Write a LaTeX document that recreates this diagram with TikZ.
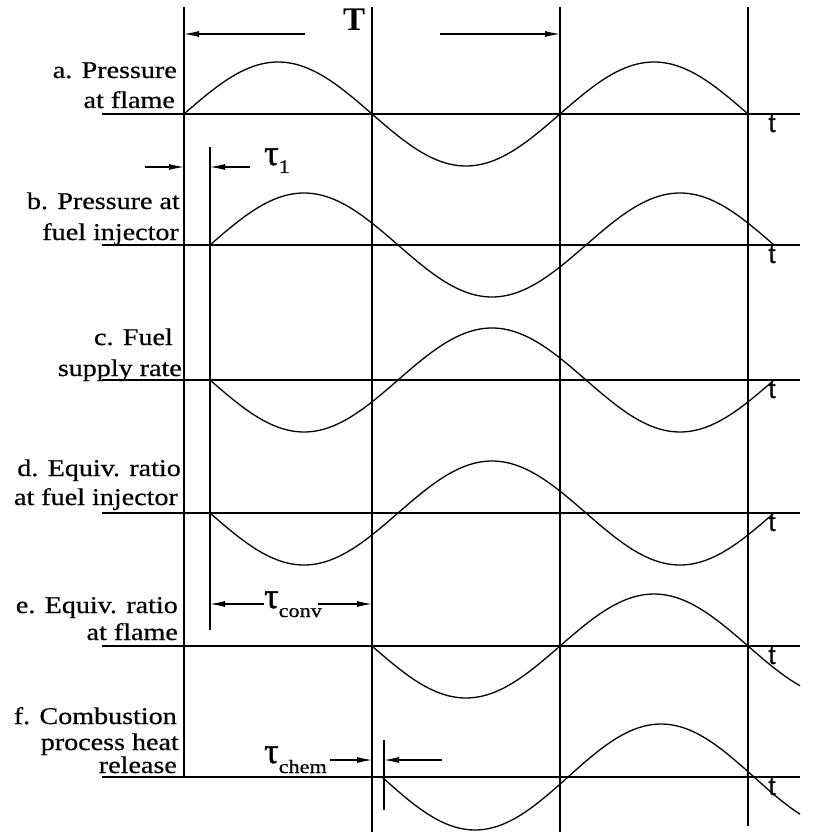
\documentclass[tikz,border=0pt]{standalone}
\usepackage{fontspec}
\setmainfont{Liberation Serif}
\newfontfamily\labfont{Liberation Serif}[FakeStretch=1.17,FakeBold=0.6]
\newfontfamily\taufont{Liberation Serif}[FakeBold=1.5]
\newfontfamily\tfont{Liberation Sans}[FakeBold=0.8]
\newcommand{\subf}{\labfont\fontsize{19}{21}\selectfont}
\usetikzlibrary{arrows.meta}
\begin{document}
\begin{tikzpicture}[x=1pt,y=-1pt,
  axisline/.style={line width=1.6pt},
  vline/.style={line width=1.1pt},
  wave/.style={line width=1.3pt},
  arr/.style={line width=1.1pt,-{Latex[length=15pt,width=6pt]}},
  lab/.style={anchor=base east,inner sep=0pt,font=\labfont\fontsize{24}{28}\selectfont},
  tlab/.style={anchor=base,inner sep=0pt,font=\tfont\fontsize{26}{28}\selectfont},
  taulab/.style={anchor=base west,inner sep=0pt,font=\taufont\fontsize{36}{38}\selectfont}]
\useasboundingbox (0,0) rectangle (818,837);
% vertical lines
\coordinate (v1t) at (184,7);   \coordinate (v1b) at (184,777);
\coordinate (v2t) at (372,7);   \coordinate (v2b) at (372,832);
\coordinate (v3t) at (560,7);   \coordinate (v3b) at (560,832);
\coordinate (v4t) at (748,7);   \coordinate (v4b) at (748,826);
\coordinate (w1t) at (210,147); \coordinate (w1b) at (210,630);
\coordinate (w2t) at (384,740); \coordinate (w2b) at (384,810);
\draw[vline] (v1t) -- (v1b);
\draw[vline] (v2t) -- (v2b);
\draw[vline] (v3t) -- (v3b);
\draw[vline] (v4t) -- (v4b);
\draw[vline] (w1t) -- (w1b);
\draw[vline] (w2t) -- (w2b);
% axes
\foreach \n/\y in {a/114,b/245,c/380,d/513,e/646,f/777}{
  \coordinate (\n0) at (102,\y);
  \coordinate (\n1) at (800,\y);
  \draw[axisline] (\n0) -- (\n1);
  \node[tlab] (t\n) at (772,\y+18) {t};
}
% waves
\draw[wave] plot[domain=184:748,samples=120,smooth] (\x,{114-52*sin((\x-184)/188*180)});
\draw[wave] plot[domain=210:774,samples=120,smooth] (\x,{245-52*sin((\x-210)/188*180)});
\draw[wave] plot[domain=210:774,samples=120,smooth] (\x,{380+52*sin((\x-210)/188*180)});
\draw[wave] plot[domain=210:774,samples=120,smooth] (\x,{513+52*sin((\x-210)/188*180)});
\draw[wave] plot[domain=372:800,samples=100,smooth] (\x,{646+52*sin((\x-372)/188*180)});
\draw[wave] plot[domain=382:800,samples=100,smooth] (\x,{777+53*sin((\x-382)/186*180)});
% labels
\node[lab] (la1) at (177,78) {a. Pressure};
\node[lab] (la2) at (175,108) {at flame};
\node[lab] (lb1) at (180,209) {b. Pressure at};
\node[lab] (lb2) at (179,240) {fuel injector};
\node[lab] (lc1) at (173,345) {c. Fuel};
\node[lab] (lc2) at (182,376) {supply rate};
\node[lab] (ld1) at (181,476) {d. Equiv. ratio};
\node[lab] (ld2) at (178,505) {at fuel injector};
\node[lab] (le1) at (178,613) {e. Equiv. ratio};
\node[lab] (le2) at (178,640) {at flame};
\node[lab] (lf1) at (177,724) {f. Combustion};
\node[lab] (lf2) at (179,750) {process heat};
\node[lab] (lf3) at (177,773) {release};
% period T
\node[anchor=base,inner sep=0pt,font=\bfseries\fontsize{33}{35}\selectfont] (T) at (354,31) {T};
\coordinate (Ta) at (305,34); \coordinate (Ta2) at (184,34);
\coordinate (Tb) at (440,34); \coordinate (Tb2) at (560,34);
\draw[arr] (Ta) -- (Ta2);
\draw[arr] (Tb) -- (Tb2);
% tau 1
\node[taulab] (tau1) at (264,165) {τ\raisebox{-8pt}{\subf 1}};
\coordinate (t1a) at (145,167); \coordinate (t1a2) at (184,167);
\coordinate (t1b) at (250,167); \coordinate (t1b2) at (210,167);
\draw[arr] (t1a) -- (t1a2);
\draw[arr] (t1b) -- (t1b2);
% tau conv
\node[taulab] (tauc) at (264,608) {τ\raisebox{-9pt}{\subf conv}};
\coordinate (tca) at (264,604); \coordinate (tca2) at (210,604);
\coordinate (tcb) at (318,604); \coordinate (tcb2) at (372,604);
\draw[arr] (tca) -- (tca2);
\draw[arr] (tcb) -- (tcb2);
% tau chem
\node[taulab] (tauh) at (264,763) {τ\raisebox{-10pt}{\subf chem}};
\coordinate (tha) at (330,760); \coordinate (tha2) at (372,760);
\coordinate (thb) at (442,760); \coordinate (thb2) at (384,760);
\draw[arr] (tha) -- (tha2);
\draw[arr] (thb) -- (thb2);
\end{tikzpicture}
\end{document}
